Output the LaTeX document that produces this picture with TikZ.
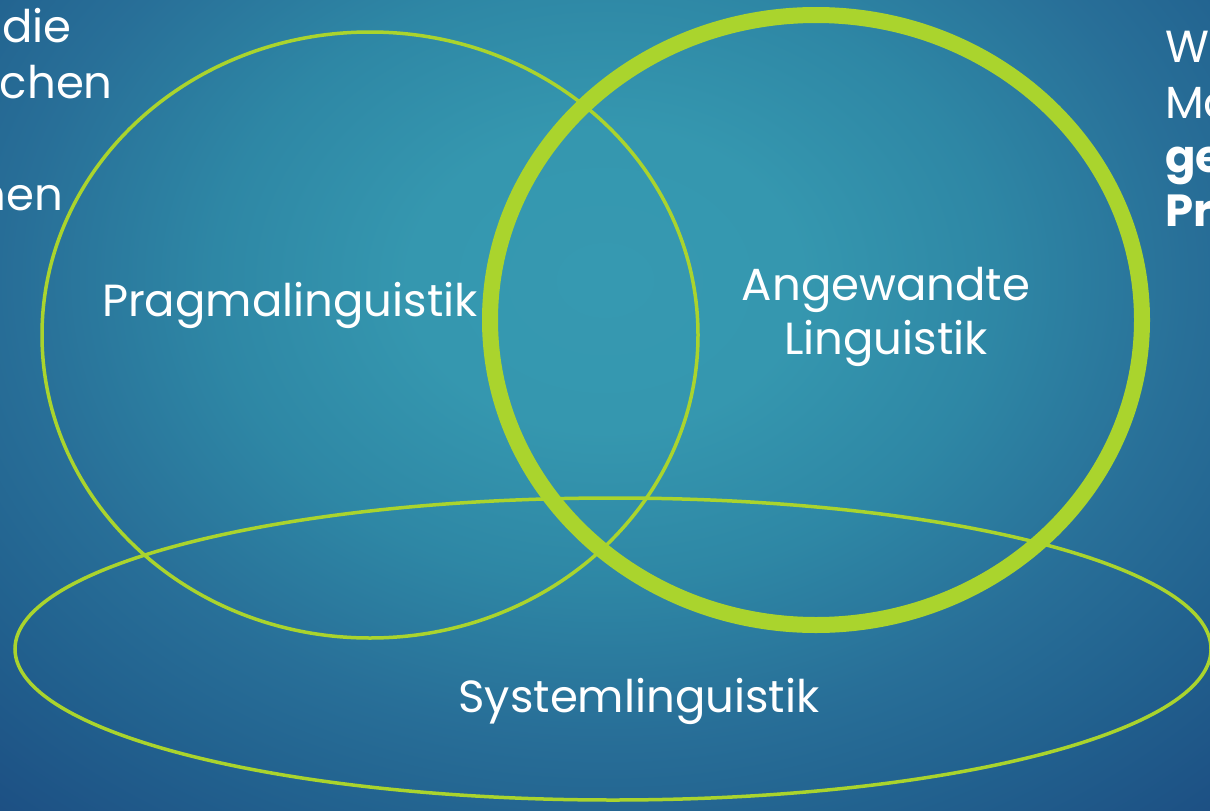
\documentclass[tikz,border=0pt]{standalone}
\usepackage{fontspec}
\setmainfont{Poppins}
\definecolor{lime}{RGB}{170,212,45}
\definecolor{bgA}{HTML}{3699B1}
\definecolor{bgB}{HTML}{3597AF}
\definecolor{bgC}{HTML}{2E87A5}
\definecolor{bgD}{HTML}{286F98}
\definecolor{bgE}{HTML}{22628F}
\definecolor{bgF}{HTML}{1B4A80}
\pgfdeclareradialshading{bgshade}{\pgfpoint{0bp}{0bp}}{color(0bp)=(bgA); color(7.5bp)=(bgB); color(15bp)=(bgC); color(22.5bp)=(bgD); color(28bp)=(bgE); color(37.5bp)=(bgF); color(50bp)=(bgF)}
\tikzset{
  thinring/.style={draw=lime, line width=3.5pt},
  thickring/.style={draw=lime, line width=16pt},
  lbl/.style={text=white, inner sep=0pt, font=\fontsize{45}{54}\selectfont},
  boldlbl/.style={lbl, font=\fontsize{45}{54}\selectfont\bfseries}
}
\begin{document}
\begin{tikzpicture}[x=1pt,y=-1pt]
\useasboundingbox (0,0) rectangle (1210,811);
\begin{scope}
\clip (0,0) rectangle (1210,811);
\fill[bgF] (0,0) rectangle (1210,811);
\begin{pgfscope}
\pgftransformshift{\pgfpointxy{605}{280}}
\pgftransformxscale{26}
\pgftransformyscale{20}
\pgflowlevelsynccm
\pgfuseshading{bgshade}
\end{pgfscope}
% rings
\draw[thinring] (370,335) ellipse (328pt and 303pt);
\draw[thickring] (816,320) ellipse (326pt and 305pt);
\draw[thinring] (613,649) ellipse (598pt and 151pt);
% labels
\node[lbl, anchor=base] (prag) at (290,316) {Pragmalinguistik};
\node[lbl, anchor=base, align=center] (ang) at (886,354) {Angewandte\\Linguistik};
\node[lbl, anchor=base] (sys) at (639,712) {Systemlinguistik};
% cut-off side texts
\node[lbl, anchor=base east] (l1) at (72,42) {die};
\node[lbl, anchor=base east] (l2) at (113,98) {chen};
\node[lbl, anchor=base east] (l3) at (63,210) {hen};
\node[lbl, anchor=base west] (r1) at (1165,62) {W};
\node[lbl, anchor=base west] (r2) at (1165,118) {Ma};
\node[boldlbl, anchor=base west] (r3) at (1165,172) {ge};
\node[boldlbl, anchor=base west] (r4) at (1165,226) {Pra};
\end{scope}
\end{tikzpicture}
\end{document}
